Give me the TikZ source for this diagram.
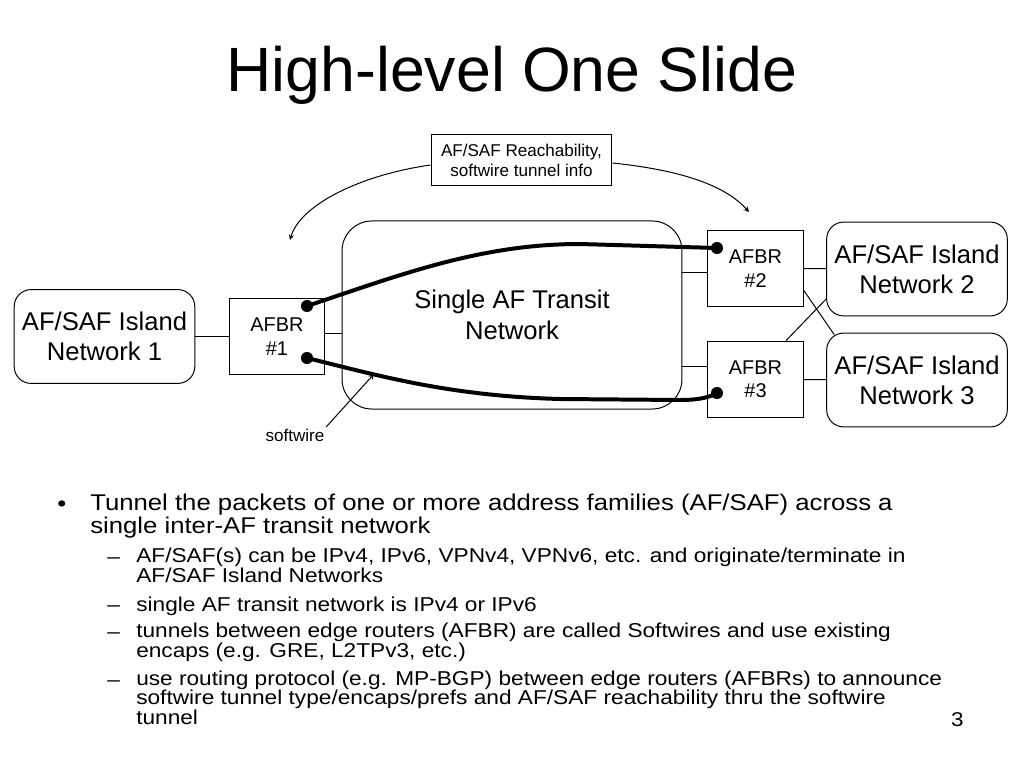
\documentclass[tikz,border=0pt]{standalone}
\usepackage{fontspec}
\setmainfont{Liberation Sans}
\newfontfamily\bodyfont[FakeStretch=1.13]{Liberation Sans}
\usetikzlibrary{arrows.meta,calc}
\newcommand{\tightlines}{\lineskiplimit=-20pt\relax}

\begin{document}
\begin{tikzpicture}[x=0.703pt, y=-0.703pt, >=stealth,
  box/.style={draw, line width=0.7pt, align=center, inner sep=0pt},
  router/.style={box, minimum width=66.8pt, minimum height=54pt,
    font=\fontsize{14}{16.4}\selectfont},
  island/.style={box, rounded corners=12pt, minimum width=127pt,
    minimum height=66pt, font=\fontsize{18}{21}\selectfont},
  dot/.style={circle, fill, inner sep=0pt, minimum size=8.5pt},
  tunnel/.style={line width=2.8pt},
  link/.style={line width=0.7pt},
  mainpt/.style={anchor=base west, align=left, inner sep=0pt,
    font=\bodyfont\fontsize{16}{15.5}\selectfont\tightlines},
  subpt/.style={anchor=base west, align=left, inner sep=0pt,
    font=\bodyfont\fontsize{14.1}{13.4}\selectfont\tightlines}]
  \useasboundingbox (0,0) rectangle (1024,768);
  \fill[white] (0,0) rectangle (1024,768);

  % title
  \node[anchor=base, font=\fontsize{44}{50}\selectfont] (title) at (512,91)
    {High-level One Slide};

  % diagram
  \node[box, minimum width=127.2pt, minimum height=35.2pt,
    font=\fontsize{12}{14}\selectfont] (info) at (521.5,160)
    {AF/SAF Reachability,\\softwire tunnel info};
  \node[box, rounded corners=21pt, minimum width=239pt, minimum height=132.2pt,
    font=\fontsize{18}{21.8}\selectfont] (transit) at (512,315)
    {Single AF Transit\\Network};
  \node[router] (afbr1) at (277,336.5) {AFBR\\\#1};
  \node[router] (afbr2) at (755.5,268.5) {AFBR\\\#2};
  \node[router] (afbr3) at (755.5,379.5) {AFBR\\\#3};
  \node[island] (isl1) at (104.5,336.5) {AF/SAF Island\\Network 1};
  \node[island] (isl2) at (917,269) {AF/SAF Island\\Network 2};
  \node[island] (isl3) at (917,380) {AF/SAF Island\\Network 3};

  % links
  \draw[link] (isl1) -- (afbr1);
  \draw[link] (afbr1.east |- 0,333) -- (transit.west |- 0,333);
  \draw[link] (transit.east |- 0,272) -- (afbr2.west |- 0,272);
  \draw[link] (transit.east |- 0,366) -- (afbr3.west |- 0,366);
  \draw[link] (afbr2) -- (isl2);
  \draw[link] (afbr3) -- (isl3);
  \draw[link] (afbr2.east |- 0,290) -- ($(isl3.north west)+(8,2)$);
  \draw[link] (afbr3.north -| 786,0) -- (isl2.west |- 0,299);

  % softwires
  \node[dot] (d1a) at (307,306) {};
  \node[dot] (d1b) at (307,358) {};
  \node[dot] (d2) at (717,248) {};
  \node[dot] (d3) at (717,393) {};
  \draw[tunnel] (d1a.center) .. controls (400,275) and (480,244) .. (580,244)
    -- (d2.center);
  \draw[tunnel] (d1b.center) .. controls (380,376) and (450,396) .. (560,399)
    -- (680,400) .. controls (700,400) and (710,397) .. (d3.center);

  \node[inner sep=1pt, font=\fontsize{12}{14}\selectfont] (swlabel) at (295,435)
    {softwire};
  \coordinate (swtip) at (374,374);
  \draw[->, link] (swlabel.north east) -- (swtip);

  % reachability info arrows
  \coordinate (infoL) at (290,240);
  \coordinate (infoR) at (749,212);
  \draw[->, link] ($(info.west)+(0,5)$) .. controls (360,175) and (300,205) .. (infoL);
  \draw[->, link] ($(info.east)+(0,3)$) .. controls (680,170) and (725,185) .. (infoR);

  % bullets
  \node[mainpt] (bul1) at (57,511) {•};
  \node[mainpt] (txt1) at (90,533)
    {Tunnel the packets of one or more address families (AF/SAF) across a\\
     single inter-AF transit network};
  \node[subpt] (dash1) at (107,563) {–};
  \node[subpt] (sub1) at (136,582)
    {AF/SAF(s) can be IPv4, IPv6, VPNv4, VPNv6, etc. and originate/terminate in\\
     AF/SAF Island Networks};
  \node[subpt] (dash2) at (107,611) {–};
  \node[subpt] (sub2) at (136,611) {single AF transit network is IPv4 or IPv6};
  \node[subpt] (dash3) at (107,638) {–};
  \node[subpt] (sub3) at (136,657)
    {tunnels between edge routers (AFBR) are called Softwires and use existing\\
     encaps (e.g. GRE, L2TPv3, etc.)};
  \node[subpt] (dash4) at (107,686) {–};
  \node[subpt] (sub4) at (136,724)
    {use routing protocol (e.g. MP-BGP) between edge routers (AFBRs) to announce\\
     softwire tunnel type/encaps/prefs and AF/SAF reachability thru the softwire\\
     tunnel};

  \node[anchor=base east, inner sep=0pt, font=\bodyfont\fontsize{14}{16}\selectfont]
    (pagenum) at (964,726) {3};
\end{tikzpicture}
\end{document}
